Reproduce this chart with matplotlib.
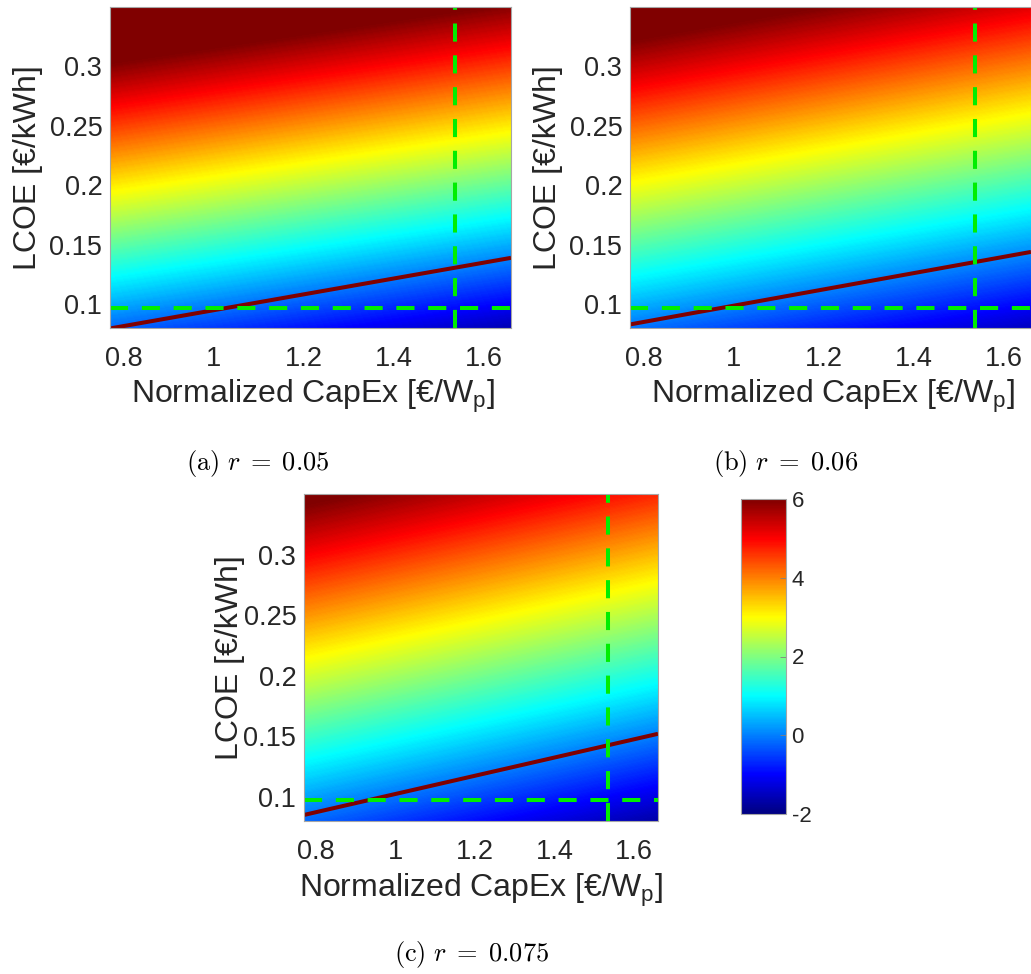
"""
LCOE vs normalized CapEx maps for three discount rates (jet colour field,
break-even line, reference dashed lines) + shared colorbar.
"""

import numpy as np
import matplotlib
import matplotlib.pyplot as plt
from matplotlib.colors import LinearSegmentedColormap

matplotlib.use('Agg')

plt.rcParams['font.family'] = ['Liberation Sans', 'DejaVu Sans']
plt.rcParams['mathtext.fontset'] = 'custom'
plt.rcParams['mathtext.rm'] = 'Liberation Sans'
plt.rcParams['mathtext.it'] = 'Liberation Sans:italic'
plt.rcParams['axes.unicode_minus'] = False

# ---------------------------------------------------------
# data
# ---------------------------------------------------------
capex_lim = [0.77, 1.66]          # x range of the maps [€/Wp]
lcoe_lim = [0.08, 0.35]           # y range of the maps [€/kWh]
x_ticks = [0.8, 1.0, 1.2, 1.4, 1.6]
x_ticklabels = ['0.8', '1', '1.2', '1.4', '1.6']
y_ticks = [0.1, 0.15, 0.2, 0.25, 0.3]
y_ticklabels = ['0.1', '0.15', '0.2', '0.25', '0.3']
cbar_ticks = [-2, 0, 2, 4, 6]

# field value at the map corners, rows = [bottom, top], cols = [left, right]
field_a = [[-0.2, -1.6], [7.3, 5.9]]
field_b = [[-0.1, -1.5], [6.7, 5.2]]
field_c = [[-0.2, -1.7], [6.2, 4.7]]

# break-even line, LCOE at the left / right edge
breakeven_a = [0.0796, 0.139]
breakeven_b = [0.083, 0.144]
breakeven_c = [0.085, 0.152]

ref_capex = 1.535
ref_lcoe = 0.097

captions = [r'$\mathrm{(a)}\ r\;=\;0.05$', r'$\mathrm{(b)}\ r\;=\;0.06$',
            r'$\mathrm{(c)}\ r\;=\;0.075$']

TXT = '#262626'
LEVELS = np.linspace(-2, 6, 321)

# MATLAB-style jet (yellow exactly at 5/8)
JET = LinearSegmentedColormap.from_list('mjet', [
    (0.0, (0, 0, 0.5)), (1 / 8, (0, 0, 1)), (3 / 8, (0, 1, 1)),
    (5 / 8, (1, 1, 0)), (7 / 8, (1, 0, 0)), (1.0, (0.5, 0, 0))], N=256)

fig = plt.figure(figsize=(10.31, 9.74), dpi=100)

W, H = 1031, 974


def px_axes(left, top, right, bottom):
    return fig.add_axes([left / W, 1 - bottom / H, (right - left) / W, (bottom - top) / H])


def draw_map(ax, field, breakeven):
    # contourf interpolates linearly between the corner values
    cf = ax.contourf(capex_lim, lcoe_lim, np.array(field), levels=LEVELS,
                     cmap=JET, extend='both')
    ax.plot(capex_lim, breakeven, color='#800000', lw=2.9, solid_capstyle='butt')
    ax.axvline(ref_capex, color='#00ee00', lw=2.9, dashes=(4.5, 3.4))
    ax.axhline(ref_lcoe, color='#00ee00', lw=2.9, dashes=(4.5, 3.4))
    ax.set_xlim(capex_lim)
    ax.set_ylim(lcoe_lim)
    ax.set_xticks(x_ticks, x_ticklabels)
    ax.set_yticks(y_ticks, y_ticklabels)
    ax.tick_params(length=0, labelsize=19.5, colors=TXT)
    ax.tick_params(axis='x', pad=13)
    ax.tick_params(axis='y', pad=5.5)
    for s in ax.spines.values():
        s.set_color('#a6a6a6')
        s.set_linewidth(0.8)
    ax.set_xlabel(r'Normalized CapEx [€/W$_{\mathrm{p}}$]', fontsize=23, color=TXT, va='top')
    ax.set_ylabel('LCOE [€/kWh]', fontsize=23, color=TXT, va='center')
    return cf


ax_a = px_axes(110, 7, 511, 328)
ax_b = px_axes(630, 7, 1031, 328)
ax_c = px_axes(304, 494, 658, 821)

draw_map(ax_a, field_a, breakeven_a)
draw_map(ax_b, field_b, breakeven_b)
draw_map(ax_c, field_c, breakeven_c)

ax_a.xaxis.set_label_coords(0.505, -0.155)
ax_b.xaxis.set_label_coords(0.505, -0.155)
ax_c.xaxis.set_label_coords(0.5, -0.155)
ax_a.yaxis.set_label_coords(-0.204, 0.5)
ax_b.yaxis.set_label_coords(-0.204, 0.5)
ax_c.yaxis.set_label_coords(-0.21, 0.5)

cax = px_axes(741, 499, 786, 814)
sm = plt.cm.ScalarMappable(norm=plt.Normalize(-2, 6), cmap=JET)
cb = fig.colorbar(sm, cax=cax, ticks=cbar_ticks)
cb.ax.tick_params(direction='in', length=4, width=0.6, color='#808080',
                  labelsize=16, colors=TXT, pad=4)
cb.outline.set_edgecolor('#a6a6a6')
cb.outline.set_linewidth(0.8)

for (cx, cy), txt in zip([(258, 464), (786, 464), (472, 955)], captions):
    fig.text(cx / W, 1 - cy / H, txt, ha='center', va='center', fontsize=19,
             color='black', math_fontfamily='cm')

plt.savefig('out.png', dpi=100, facecolor='white')
